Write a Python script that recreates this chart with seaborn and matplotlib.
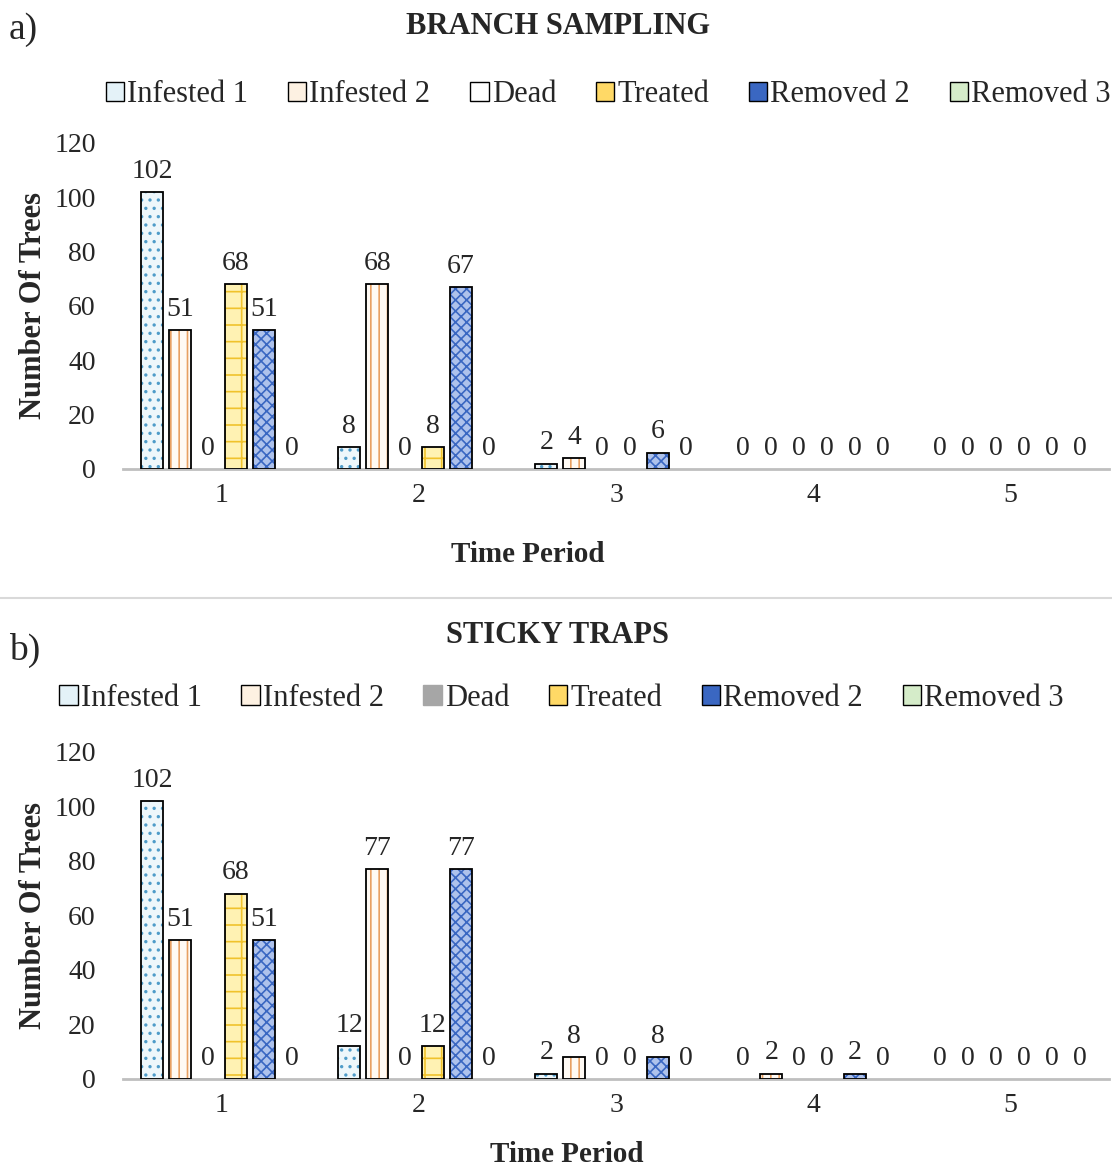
import matplotlib
matplotlib.use('Agg')
import matplotlib.pyplot as plt
import seaborn as sns
import pandas as pd
from matplotlib.patches import Patch, Rectangle

# Data
periods = ['1', '2', '3', '4', '5']
series = ['Infested 1', 'Infested 2', 'Dead', 'Treated', 'Removed 2', 'Removed 3']

branch_infested1 = [102, 8, 2, 0, 0]
branch_infested2 = [51, 68, 4, 0, 0]
branch_dead = [0, 0, 0, 0, 0]
branch_treated = [68, 8, 0, 0, 0]
branch_removed2 = [51, 67, 6, 0, 0]
branch_removed3 = [0, 0, 0, 0, 0]

sticky_infested1 = [102, 12, 2, 0, 0]
sticky_infested2 = [51, 77, 8, 2, 0]
sticky_dead = [0, 0, 0, 0, 0]
sticky_treated = [68, 12, 0, 0, 0]
sticky_removed2 = [51, 77, 8, 2, 0]
sticky_removed3 = [0, 0, 0, 0, 0]

y_ticks = [0, 20, 40, 60, 80, 100, 120]

# fill colour, hatch colour, hatch pattern per series
styles = {
    'Infested 1': ('#eef7fb', '#4f9cc9', '..'),
    'Infested 2': ('#fffaf4', '#e8a062', '||'),
    'Dead': ('#ffffff', '#7f7f7f', '--'),
    'Treated': ('#fff2b3', '#f0c22c', '+'),
    'Removed 2': ('#aec2ec', '#3a67c2', 'xxx'),
    'Removed 3': ('#eef6e8', '#70ad47', '\\\\'),
}


def make_frame(values):
    rows = {'Period': [], 'Series': [], 'Trees': []}
    for name, vals in zip(series, values):
        rows['Period'].extend(periods)
        rows['Series'].extend([name] * len(vals))
        rows['Trees'].extend(vals)
    return pd.DataFrame(rows)


df_branch = make_frame([branch_infested1, branch_infested2, branch_dead,
                        branch_treated, branch_removed2, branch_removed3])
df_sticky = make_frame([sticky_infested1, sticky_infested2, sticky_dead,
                        sticky_treated, sticky_removed2, sticky_removed3])

sns.set_theme(style='white')
plt.rcParams['font.family'] = ['Liberation Serif', 'DejaVu Serif']
plt.rcParams['hatch.linewidth'] = 1.2

fig = plt.figure(figsize=(11.12, 11.68), dpi=100)
ax_a = fig.add_axes([0.111, 0.5985, 0.886, 0.2791])
ax_b = fig.add_axes([0.111, 0.0762, 0.886, 0.2800])

palette = {s: styles[s][0] for s in series}


def draw_panel(ax, df, label_xy):
    sns.barplot(data=df, x='Period', y='Trees', hue='Series', hue_order=series,
                order=periods, palette=palette, width=0.85, gap=0.2,
                saturation=1, legend=False, ax=ax, errorbar=None)
    for cont, name in zip(ax.containers, series):
        fill, hcol, hatch = styles[name]
        for p in cont:
            p.set_facecolor(fill)
            p.set_edgecolor(hcol)
            p.set_hatch(hatch)
            p.set_linewidth(0)
            if p.get_height() > 0:
                ax.add_patch(Rectangle(p.get_xy(), p.get_width(), p.get_height(),
                                       fill=False, ec='black', lw=1.3, zorder=3))
        ax.bar_label(cont, labels=[f'{int(v)}' for v in cont.datavalues],
                     padding=6, fontsize=20)
    ax.set_ylim(0, 120)
    ax.set_xlim(-0.5, 4.5)
    ax.set_yticks(y_ticks)
    ax.tick_params(axis='both', labelsize=20, length=0)
    ax.tick_params(axis='y', pad=20)
    ax.tick_params(axis='x', pad=10)
    for side in ['top', 'right', 'left']:
        ax.spines[side].set_visible(False)
    ax.spines['bottom'].set_color('#bfbfbf')
    ax.spines['bottom'].set_linewidth(2)
    ax.set_ylabel('Number Of Trees', fontsize=22, fontweight='bold')
    ax.yaxis.set_label_coords(-0.077, 0.5)
    ax.set_xlabel('Time Period', fontsize=21, fontweight='bold')
    ax.xaxis.set_label_coords(*label_xy)


draw_panel(ax_a, df_branch, (0.41, -0.22))
draw_panel(ax_b, df_sticky, (0.45, -0.19))

handle_fills = {'Infested 1': '#e4f2f8', 'Infested 2': '#fdf1e2', 'Treated': '#ffd966',
                'Removed 2': '#3a67c2', 'Removed 3': '#d5ecc9'}


def build_handles(dead_fill):
    hs = []
    for name in series:
        fc = handle_fills.get(name, dead_fill)
        ec = '#a6a6a6' if (name == 'Dead' and dead_fill != 'white') else 'black'
        hs.append(Patch(facecolor=fc, edgecolor=ec, lw=1, label=name))
    return hs


fig.legend(handles=build_handles('white'), loc='center', bbox_to_anchor=(0.547, 0.919),
           ncol=6, frameon=False, fontsize=22, handlelength=0.6, handleheight=0.6,
           handletextpad=0.1, columnspacing=1.3)
fig.legend(handles=build_handles('#a6a6a6'), loc='center', bbox_to_anchor=(0.505, 0.402),
           ncol=6, frameon=False, fontsize=22, handlelength=0.6, handleheight=0.6,
           handletextpad=0.1, columnspacing=1.3)

# titles and panel letters
fig.text(0.502, 0.977, 'BRANCH SAMPLING', ha='center', va='center', fontsize=22,
         fontweight='bold')
fig.text(0.501, 0.456, 'STICKY TRAPS', ha='center', va='center', fontsize=22,
         fontweight='bold')
fig.text(0.008, 0.975, 'a)', ha='left', va='center', fontsize=27)
fig.text(0.008, 0.443, 'b)', ha='left', va='center', fontsize=27)

# separator between panels
fig.add_artist(plt.Line2D([0, 1], [0.488, 0.488], color='#d9d9d9', lw=1.5))

plt.savefig('out.png', dpi=100)
plt.close()
